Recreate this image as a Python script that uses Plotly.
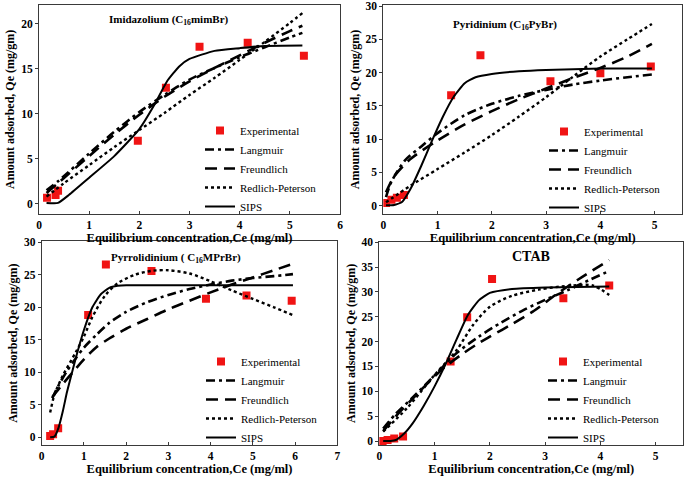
import plotly.graph_objects as go

FONT = "Liberation Serif"
RED = "#F01414"

# ---------------- Panel 1: Imidazolium (C16mimBr) ----------------
p1_exp_x = [0.16, 0.33, 0.38, 1.97, 2.53, 3.20, 4.16, 5.28]
p1_exp_y = [0.67, 0.97, 1.45, 7.0, 12.9, 17.45, 17.9, 16.45]
p1_lang_x = [0.15, 0.4, 1.0, 1.5, 2.0, 2.5, 3.0, 3.5, 4.0, 4.5, 5.0, 5.25]
p1_lang_y = [1.5, 2.6, 5.6, 8.0, 10.2, 12.1, 13.8, 15.1, 16.3, 17.4, 18.5, 19.0]
p1_freu_x = [0.15, 0.4, 1.0, 1.5, 2.0, 2.5, 3.0, 3.5, 4.0, 4.5, 5.0, 5.25]
p1_freu_y = [1.2, 2.4, 5.3, 7.7, 9.9, 11.9, 13.6, 15.1, 16.5, 17.9, 19.2, 19.8]
p1_redl_x = [0.15, 0.5, 1.0, 1.5, 2.0, 2.5, 3.0, 3.5, 4.0, 4.5, 5.0, 5.25]
p1_redl_y = [0.8, 2.3, 4.3, 6.3, 8.2, 10.1, 12.1, 14.0, 16.0, 18.0, 20.1, 21.2]
p1_sips_x = [0.15, 0.38, 0.6, 1.0, 1.5, 2.0, 2.3, 2.55, 2.8, 3.0, 3.5, 4.0, 4.5, 5.25]
p1_sips_y = [0.1, 0.1, 1.0, 2.9, 5.3, 8.3, 11.0, 13.6, 15.3, 16.1, 17.0, 17.3, 17.55, 17.6]

# ---------------- Panel 2: Pyridinium (C16PyBr) ----------------
p2_exp_x = [0.05, 0.15, 0.25, 0.38, 1.25, 1.79, 3.08, 4.0, 4.93]
p2_exp_y = [0.4, 0.9, 1.2, 1.6, 16.6, 22.6, 18.7, 19.9, 20.9]
p2_lang_x = [0.05, 0.15, 0.4, 0.7, 1.0, 1.5, 2.0, 2.5, 3.0, 3.5, 4.0, 4.5, 4.95]
p2_lang_y = [1.3, 3.6, 6.8, 8.9, 10.9, 13.6, 15.3, 16.5, 17.4, 18.2, 18.8, 19.3, 19.7]
p2_freu_x = [0.05, 0.2, 0.5, 1.0, 1.5, 2.0, 2.5, 3.0, 3.5, 4.0, 4.5, 4.95]
p2_freu_y = [2.0, 4.4, 7.0, 9.8, 12.2, 14.2, 16.0, 17.6, 19.2, 20.7, 22.4, 24.3]
p2_redl_x = [0.05, 0.5, 1.0, 1.5, 2.0, 2.5, 3.0, 3.5, 4.0, 4.5, 4.95]
p2_redl_y = [0.5, 3.0, 5.5, 8.0, 10.6, 13.4, 16.3, 19.4, 22.4, 25.0, 27.3]
p2_sips_x = [0.05, 0.2, 0.35, 0.5, 0.7, 0.9, 1.1, 1.3, 1.5, 1.7, 2.0, 2.5, 3.0, 4.0, 4.95]
p2_sips_y = [0.05, 0.1, 0.6, 2.5, 6.0, 9.8, 13.4, 16.4, 18.4, 19.3, 19.8, 20.2, 20.4, 20.6, 20.6]

# ---------------- Panel 3: Pyrrolidinium (C16MPrBr) ----------------
p3_exp_x = [0.20, 0.27, 0.39, 1.10, 1.52, 2.60, 3.89, 4.85, 5.92]
p3_exp_y = [0.2, 0.46, 1.4, 18.8, 26.6, 25.6, 21.3, 21.8, 21.0]
p3_lang_x = [0.25, 0.4, 0.6, 0.8, 1.0, 1.3, 1.6, 2.0, 2.5, 3.0, 3.5, 4.0, 4.5, 5.0, 5.5, 5.95]
p3_lang_y = [6.0, 8.0, 10.2, 12.1, 13.8, 15.8, 17.6, 19.3, 20.8, 21.9, 22.8, 23.5, 24.1, 24.5, 24.8, 25.1]
p3_freu_x = [0.25, 0.5, 0.8, 1.0, 1.3, 1.6, 2.0, 2.5, 3.0, 3.5, 4.0, 4.5, 5.0, 5.5, 5.95]
p3_freu_y = [6.2, 8.2, 10.5, 12.0, 13.9, 15.2, 16.7, 18.2, 19.7, 21.0, 22.3, 23.5, 24.6, 25.7, 26.7]
p3_redl_x = [0.2, 0.3, 0.5, 0.8, 1.0, 1.2, 1.5, 1.8, 2.2, 2.6, 3.0, 3.5, 4.0, 4.5, 5.0, 5.5, 5.95]
p3_redl_y = [3.8, 6.5, 9.5, 13.0, 15.5, 18.5, 21.8, 23.7, 25.0, 25.6, 25.7, 25.2, 24.0, 22.6, 21.3, 20.0, 18.8]
p3_sips_x = [0.2, 0.3, 0.4, 0.5, 0.6, 0.8, 1.0, 1.2, 1.4, 1.6, 1.8, 2.0, 3.0, 5.95]
p3_sips_y = [0.0, 0.1, 1.5, 4.0, 7.0, 12.0, 16.5, 20.0, 22.0, 23.0, 23.3, 23.4, 23.4, 23.4]

# ---------------- Panel 4: CTAB ----------------
p4_exp_x = [0.06, 0.15, 0.27, 0.43, 1.29, 1.59, 2.04, 3.33, 4.16]
p4_exp_y = [0.0, 0.2, 0.5, 0.9, 16.0, 24.9, 32.6, 28.7, 31.3]
p4_lang_x = [0.07, 0.3, 0.6, 1.0, 1.4, 1.8, 2.2, 2.6, 3.0, 3.4, 3.8, 4.16]
p4_lang_y = [2.5, 5.5, 8.7, 13.2, 17.7, 21.0, 23.8, 26.3, 28.4, 30.3, 32.4, 34.2]
p4_freu_x = [0.07, 0.3, 0.6, 1.0, 1.2, 1.5, 1.8, 2.0, 2.4, 2.8, 3.2, 3.6, 4.16]
p4_freu_y = [2.0, 5.0, 8.5, 13.0, 15.0, 17.5, 19.7, 21.0, 23.5, 26.2, 29.5, 32.5, 36.4]
p4_redl_x = [0.07, 0.5, 1.0, 1.4, 1.7, 2.0, 2.4, 2.9, 3.5, 3.86, 4.16]
p4_redl_y = [1.9, 6.6, 13.3, 18.3, 23.4, 27.0, 29.2, 30.5, 31.3, 31.3, 29.4]
p4_sips_x = [0.07, 0.2, 0.3, 0.45, 0.6, 0.8, 1.0, 1.2, 1.4, 1.6, 1.8, 2.0, 2.4, 3.0, 4.16]
p4_sips_y = [0.0, 0.0, 0.2, 1.5, 3.5, 7.0, 11.0, 15.5, 20.5, 25.3, 28.3, 29.8, 30.6, 30.9, 31.1]

titles = ["<b>Imidazolium (C<sub>16</sub>mimBr)</b>",
          "<b>Pyridinium (C<sub>16</sub>PyBr)</b>",
          "<b>Pyrrolidinium ( C<sub>16</sub>MPrBr)</b>",
          "<b>CTAB</b>"]
series_names = ["Experimental", "Langmuir", "Freundlich", "Redlich-Peterson", "SIPS"]

panels = [
    dict(exp=(p1_exp_x, p1_exp_y), lang=(p1_lang_x, p1_lang_y), freu=(p1_freu_x, p1_freu_y),
         redl=(p1_redl_x, p1_redl_y), sips=(p1_sips_x, p1_sips_y)),
    dict(exp=(p2_exp_x, p2_exp_y), lang=(p2_lang_x, p2_lang_y), freu=(p2_freu_x, p2_freu_y),
         redl=(p2_redl_x, p2_redl_y), sips=(p2_sips_x, p2_sips_y)),
    dict(exp=(p3_exp_x, p3_exp_y), lang=(p3_lang_x, p3_lang_y), freu=(p3_freu_x, p3_freu_y),
         redl=(p3_redl_x, p3_redl_y), sips=(p3_sips_x, p3_sips_y)),
    dict(exp=(p4_exp_x, p4_exp_y), lang=(p4_lang_x, p4_lang_y), freu=(p4_freu_x, p4_freu_y),
         redl=(p4_redl_x, p4_redl_y), sips=(p4_sips_x, p4_sips_y)),
]

W, H = 685, 478
# pixel boxes of the 4 plot areas (left, right, top, bottom)
boxes = [(39, 340, 5, 213.7), (383.3, 682.3, 5, 214), (41.7, 337.3, 241, 445.3), (379.3, 683.3, 241.7, 445)]
xranges = [[0, 6], [0, 5.51], [0, 7], [0, 5.5]]
yranges = [[-1.1, 22.1], [-1.25, 30.15], [-1.23, 30.2], [-0.8, 40.1]]
xticks = [[0, 1, 2, 3, 4, 5, 6], [0, 1, 2, 3, 4, 5], [0, 1, 2, 3, 4, 5, 6, 7], [0, 1, 2, 3, 4, 5]]
yticks = [[0, 5, 10, 15, 20], [0, 5, 10, 15, 20, 25, 30], [0, 5, 10, 15, 20, 25, 30],
          [0, 5, 10, 15, 20, 25, 30, 35, 40]]
title_pos = [(0.432, 0.928, 11), (0.407, 0.904, 11), (0.454, 0.918, 11), (0.499, 0.926, 14)]
legend_px = [(200, 116), (544, 117), (201, 347), (543, 347)]

styles = {
    "lang": dict(color="black", width=2.6, dash="9px,4px,3px,4px"),
    "freu": dict(color="black", width=2.6, dash="12px,7px"),
    "redl": dict(color="black", width=2.4, dash="dot"),
    "sips": dict(color="black", width=2.0),
}
smooth = {"lang": 0.8, "freu": 0.8, "redl": 0.8, "sips": 0.5}

fig = go.Figure()
layout = dict(width=W, height=H, margin=dict(l=0, r=0, t=0, b=0, pad=0, autoexpand=False),
              paper_bgcolor="white", plot_bgcolor="white",
              font=dict(family=FONT, color="black"), annotations=[])

for i, p in enumerate(panels):
    n = "" if i == 0 else str(i + 1)
    xa, ya = "x" + n, "y" + n
    leg = "legend" + n
    fig.add_trace(go.Scatter(x=p["exp"][0], y=p["exp"][1], mode="markers", name=series_names[0],
                             marker=dict(symbol="square", size=8, color=RED),
                             xaxis=xa, yaxis=ya, legend=leg))
    for key, name in zip(["lang", "freu", "redl", "sips"], series_names[1:]):
        fig.add_trace(go.Scatter(x=p[key][0], y=p[key][1], mode="lines", name=name,
                                 line=dict(shape="spline", smoothing=smooth[key], **styles[key]),
                                 xaxis=xa, yaxis=ya, legend=leg))
    l, r, t, b = boxes[i]
    axis_common = dict(showline=True, linecolor="#3a3a3a", linewidth=1, mirror=True,
                       showgrid=False, zeroline=False, automargin=False,
                       tickfont=dict(family=FONT, size=11.5, color="black"),
                       ticklen=3, tickcolor="#3a3a3a")
    layout["xaxis" + n] = dict(axis_common, domain=[l / W, r / W], range=xranges[i],
                               anchor=ya, tickvals=xticks[i],
                               ticktext=["<b>%d</b>" % v for v in xticks[i]],
                               ticks="inside",
                               minor=dict(ticks="inside", ticklen=3, nticks=2, tickcolor="#3a3a3a"),
                               title=dict(text="<b>Equilibrium concentration,Ce (mg/ml)</b>",
                                          font=dict(family=FONT, size=12.5), standoff=0))
    layout["yaxis" + n] = dict(axis_common, domain=[1 - b / H, 1 - t / H], range=yranges[i],
                               anchor=xa, tickvals=yticks[i],
                               ticktext=["<b>%d</b>" % v for v in yticks[i]],
                               ticks="outside",
                               minor=dict(ticks="outside", ticklen=2, nticks=2, tickcolor="#3a3a3a"),
                               title=dict(text="<b>Amount adsorbed, Qe (mg/gm)</b>",
                                          font=dict(family=FONT, size=12), standoff=3))
    lx, ly = legend_px[i]
    layout[leg] = dict(x=lx / W, y=1 - ly / H, xanchor="left", yanchor="top",
                       bgcolor="rgba(0,0,0,0)", font=dict(family=FONT, size=11, color="black"),
                       tracegroupgap=0)
    tx, ty, ts = title_pos[i]
    layout["annotations"].append(dict(text=titles[i], x=tx, y=ty, xref=xa + " domain", yref=ya + " domain",
                                      showarrow=False, xanchor="center", yanchor="middle",
                                      font=dict(family=FONT, size=ts, color="black")))

fig.update_layout(**layout)
fig.write_html("out.html", config={"displayModeBar": False},
               post_script="document.body.style.margin='0';document.body.style.padding='0';"
                           "document.body.style.overflow='hidden';")
